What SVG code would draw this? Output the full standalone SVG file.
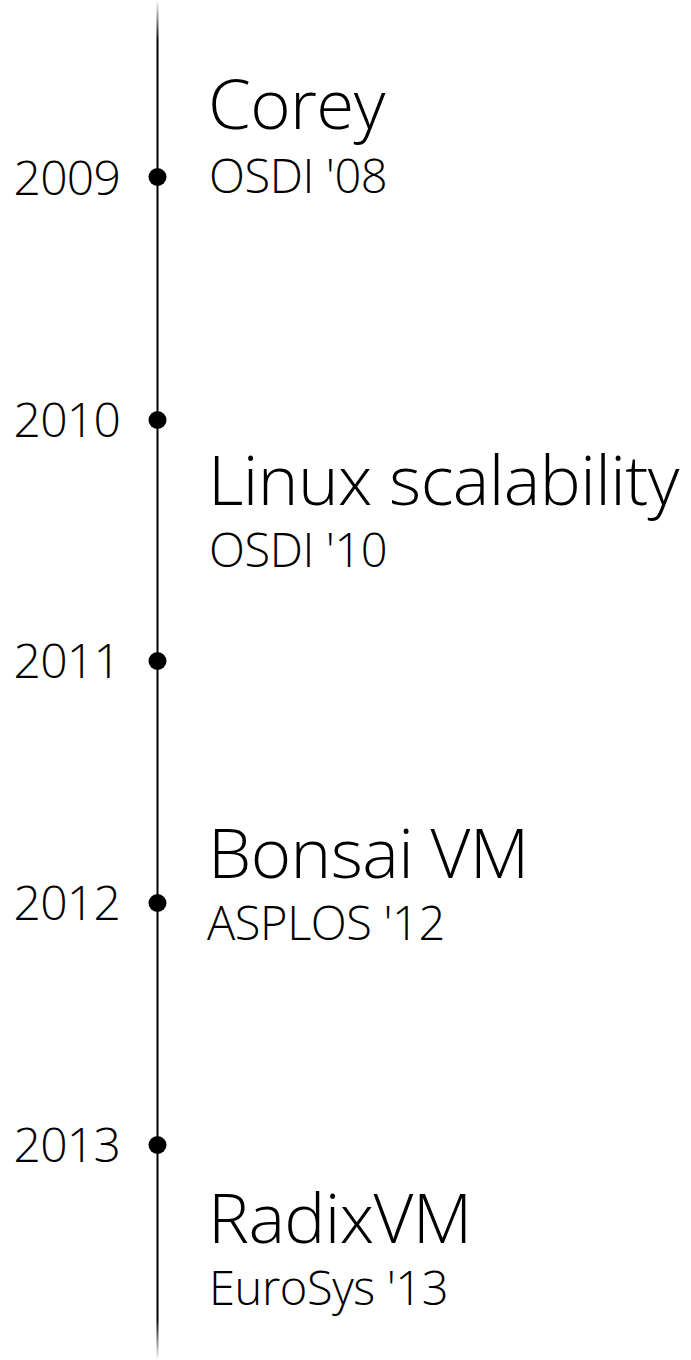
<svg xmlns="http://www.w3.org/2000/svg" width="691" height="1360" viewBox="0 0 691 1360">
<style>
text{font-family:"Open Sans","Noto Sans",sans-serif;font-weight:300;fill:#000}
.yr{font-size:48px;text-anchor:end;letter-spacing:-0.8px}
.ti{font-size:69px;letter-spacing:-0.6px}
.sub{font-size:47px;letter-spacing:-0.4px}
.dot{fill:#000}
</style>
<defs>
<linearGradient id="fade" gradientUnits="userSpaceOnUse" x1="0" y1="0" x2="0" y2="1360">
<stop offset="0" stop-color="#000" stop-opacity="0"/>
<stop offset="0.03" stop-color="#000" stop-opacity="1"/>
<stop offset="0.97" stop-color="#000" stop-opacity="1"/>
<stop offset="1" stop-color="#000" stop-opacity="0"/>
</linearGradient>
</defs>
<g id="connectors">
<rect x="156.5" y="0" width="2" height="1360" fill="url(#fade)"/>
</g>
<g id="y2009"><circle class="dot" cx="157.5" cy="177" r="9"/><text class="yr" x="120" y="195">2009</text></g>
<g id="y2010"><circle class="dot" cx="157.5" cy="420" r="9"/><text class="yr" x="120" y="437">2010</text></g>
<g id="y2011"><circle class="dot" cx="157.5" cy="661" r="9"/><text class="yr" x="120" y="678">2011</text></g>
<g id="y2012"><circle class="dot" cx="157.5" cy="903" r="9"/><text class="yr" x="120" y="920">2012</text></g>
<g id="y2013"><circle class="dot" cx="157.5" cy="1145" r="9"/><text class="yr" x="120" y="1162">2013</text></g>
<g id="corey"><text class="ti" x="208" y="129">Corey</text><text class="sub" x="209" y="193">OSDI '08</text></g>
<g id="linux"><text class="ti" x="208" y="505">Linux scalability</text><text class="sub" x="209" y="567">OSDI '10</text></g>
<g id="bonsai"><text class="ti" x="208" y="878">Bonsai VM</text><text class="sub" x="207" y="940">ASPLOS '12</text></g>
<g id="radix"><text class="ti" x="208" y="1243">RadixVM</text><text class="sub" x="209" y="1305">EuroSys '13</text></g>
</svg>
